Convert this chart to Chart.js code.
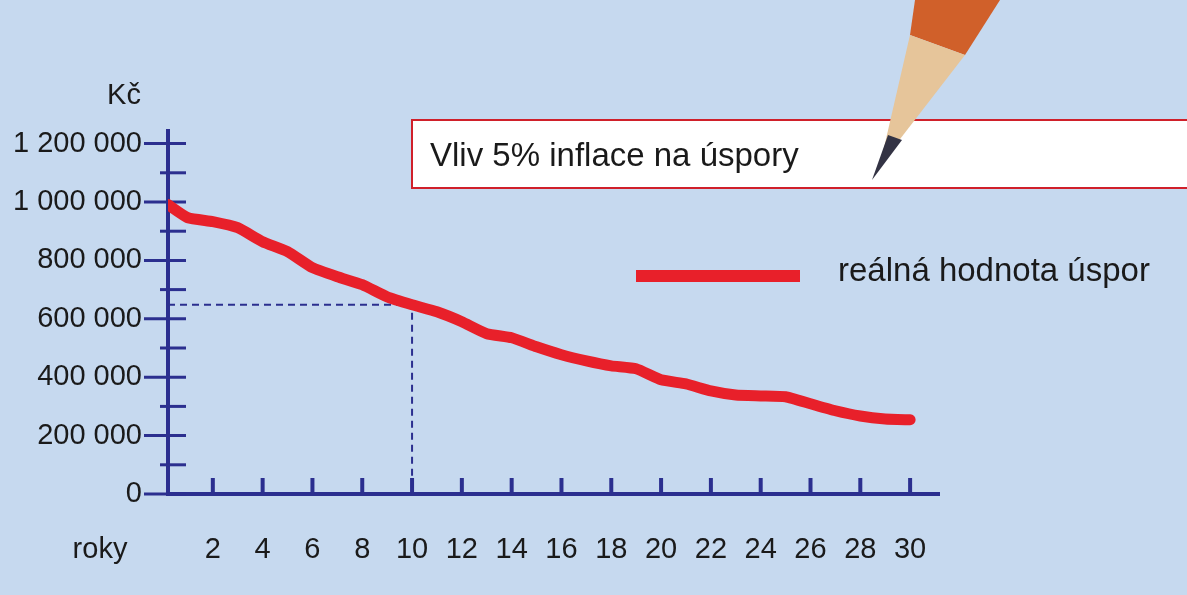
<!DOCTYPE html>
<html><head><meta charset="utf-8">
<script src="https://cdn.jsdelivr.net/npm/chart.js@4"></script>
<style>html,body{margin:0;padding:0;background:#c6d9ef;}#c{display:block}</style>
</head><body>
<canvas id="c" width="1187" height="595"></canvas>
<script>
const years = [0.2,1,2,3,4,5,6,7,8,9,10,11,12,13,14,15,16,17,18,19,20,21,22,23,24,25,26,27,28,29,30];
const values = [991000,946000,933000,912000,864000,830000,775000,744000,717000,675000,648000,624000,590000,549000,535000,504000,477000,456000,439000,429000,391000,377000,353000,339000,336000,333000,309000,285000,267000,257000,254000];
const xTickLabels = [2,4,6,8,10,12,14,16,18,20,22,24,26,28,30];
const yTickLabels = ["0","200 000","400 000","600 000","800 000","1 000 000","1 200 000"];
const markYear = 10, markValue = 648000;
const title = "Vliv 5% inflace na úspory";
const legendLabel = "reálná hodnota úspor";

const BLUE = "#2b2f8f", RED = "#e8202a";
const font = "29px 'Liberation Sans', Arial, sans-serif";

const deco = {
  id: "deco",
  beforeDraw(chart){
    const c = chart.ctx, x = chart.scales.x, y = chart.scales.y;
    c.save();
    c.fillStyle = "#c6d9ef"; c.fillRect(0,0,chart.width,chart.height);
    c.fillStyle = "#fff"; c.fillRect(412,120,800,68);
    c.strokeStyle = "#d0202a"; c.lineWidth = 2; c.strokeRect(412,120,800,68);
    c.fillStyle = "#1a1a1a"; c.font = "33px 'Liberation Sans', Arial, sans-serif";
    c.textBaseline = "middle"; c.fillText(title, 430, 157);
    c.strokeStyle = RED; c.lineWidth = 12; c.beginPath(); c.moveTo(636,276); c.lineTo(800,276); c.stroke();
    c.fillStyle = "#1a1a1a"; c.font = "33px 'Liberation Sans', Arial, sans-serif"; c.fillText(legendLabel, 838, 272);
    const x0 = x.getPixelForValue(0.2), yb = y.getPixelForValue(0);
    c.strokeStyle = BLUE; c.lineWidth = 4;
    c.beginPath(); c.moveTo(x0, y.getPixelForValue(1250000)); c.lineTo(x0, yb); c.lineTo(x.getPixelForValue(31.2), yb); c.stroke();
    c.lineWidth = 3;
    for(let v=0; v<=1200000; v+=100000){
      const py = y.getPixelForValue(v);
      c.beginPath(); c.moveTo(x0-(v%200000===0?24:8), py); c.lineTo(x0+18, py); c.stroke();
    }
    c.lineWidth = 4;
    for(let k=2;k<=30;k+=2){
      const px = x.getPixelForValue(k);
      c.beginPath(); c.moveTo(px, yb-16); c.lineTo(px, yb); c.stroke();
    }
    c.fillStyle = "#1a1a1a"; c.font = font; c.textAlign = "right"; c.textBaseline = "middle";
    yTickLabels.forEach((t,i)=>c.fillText(t, 142, y.getPixelForValue(i*200000)));
    c.textAlign = "center";
    xTickLabels.forEach(t=>c.fillText(String(t), x.getPixelForValue(t), 550));
    c.fillText("Kč", 124, 96);
    c.fillText("roky", 100, 550);
    c.fillStyle = "#d0602a";
    c.beginPath(); c.moveTo(915,0); c.lineTo(1000,0); c.lineTo(965,55); c.lineTo(910,35); c.closePath(); c.fill();
    c.fillStyle = "#e6c59a";
    c.beginPath(); c.moveTo(910,35); c.lineTo(965,55); c.lineTo(880,165); c.closePath(); c.fill();
    c.fillStyle = "#334";
    c.beginPath(); c.moveTo(888,135); c.lineTo(902,140); c.lineTo(872,180); c.closePath(); c.fill();
    c.restore();
  }
};

new Chart(document.getElementById("c"), {
  type: "line",
  data: { datasets: [
    { data: years.map((t,i)=>({x:t,y:values[i]})), borderColor: RED, borderWidth: 11, pointRadius: 0, tension: 0.15, borderCapStyle:"round", borderJoinStyle:"round" },
    { data: [{x:0.2,y:markValue},{x:markYear,y:markValue},{x:markYear,y:0}], borderColor: BLUE, borderWidth: 2, borderDash:[7,5], pointRadius:0, tension:0 }
  ]},
  options: {
    responsive:false, animation:false, events:[],
    layout:{padding:{left:168,right:247,top:129,bottom:101}},
    plugins:{legend:{display:false},tooltip:{enabled:false}},
    scales:{
      x:{type:"linear",min:0.2,max:31.2,display:false},
      y:{min:0,max:1250000,display:false}
    }
  },
  plugins:[deco]
});
</script>
</body></html>
